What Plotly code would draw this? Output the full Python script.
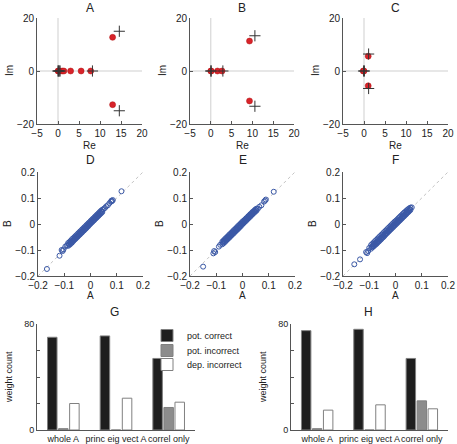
import plotly.graph_objects as go

W, H = 457, 444
FONT = "Liberation Sans, Arial, sans-serif"

# ---------------- data: eigenvalue panels (A, B, C) ----------------
A_red_re = [0.0, 0.2, 0.4, 1.0, 1.4, 3.0, 5.5, 7.8, 13.0, 13.0]
A_red_im = [0.0, 0.0, 0.0, 0.0, 0.0, 0.0, 0.0, 0.0, 12.7, -12.7]
A_blk_re = [0.0, 0.1, 0.3, 0.5, 8.2, 14.6, 14.6]
A_blk_im = [0.0, 0.0, 0.0, 0.0, 0.0, 15.0, -15.0]

B_red_re = [0.0, 0.1, 1.6, 2.7, 9.3, 9.3]
B_red_im = [0.0, 0.0, 0.0, 0.0, 11.3, -11.3]
B_blk_re = [0.0, 0.1, 2.9, 10.6, 10.6]
B_blk_im = [0.0, 0.0, 0.0, 13.3, -13.3]

C_red_re = [-0.2, 0.0, 1.0, 1.0]
C_red_im = [0.0, 0.0, 5.6, -5.6]
C_blk_re = [-0.1, 0.1, 1.1, 1.1]
C_blk_im = [0.0, 0.0, 6.4, -6.6]

# ---------------- data: weight comparison panels (D, E, F) ----------------
D_A = [-0.085, -0.080, -0.075, -0.070, -0.065, -0.060, -0.055, -0.050, -0.045, -0.040,
       -0.035, -0.030, -0.025, -0.020, -0.015, -0.010, -0.005, 0.000, 0.005, 0.010,
       0.015, 0.020, 0.025, 0.030, 0.035, 0.040, 0.045,
       -0.085, -0.080, -0.075, -0.070, -0.065, -0.060, -0.055, -0.050, -0.045, -0.040,
       -0.035, -0.030, -0.025, -0.020, -0.015, -0.010, -0.005, 0.000, 0.005, 0.010,
       0.015, 0.020, 0.025, 0.030, 0.035, 0.040, 0.045,
       -0.0825, -0.0775, -0.0725, -0.0675, -0.0625, -0.0575, -0.0525, -0.0475, -0.0425,
       -0.0375, -0.0325, -0.0275, -0.0225, -0.0175, -0.0125, -0.0075, -0.0025, 0.0025,
       0.0075, 0.0125, 0.0175, 0.0225, 0.0275, 0.0325, 0.0375, 0.0425,
       -0.166, -0.118, -0.110, -0.106, -0.103, -0.096, -0.090, 0.050, 0.055, 0.060,
       0.066, 0.072, 0.078, 0.080, 0.082, 0.085, 0.118]
D_B = [-0.073, -0.069, -0.064, -0.058, -0.054, -0.049, -0.044, -0.039, -0.034, -0.029,
       -0.024, -0.019, -0.014, -0.009, -0.004, 0.001, 0.006, 0.011, 0.016, 0.021,
       0.026, 0.031, 0.036, 0.041, 0.046, 0.051, 0.055,
       -0.084, -0.080, -0.076, -0.071, -0.065, -0.060, -0.055, -0.050, -0.045, -0.040,
       -0.035, -0.030, -0.025, -0.020, -0.015, -0.010, -0.004, 0.001, 0.006, 0.011,
       0.016, 0.021, 0.026, 0.031, 0.036, 0.041, 0.046,
       -0.078, -0.073, -0.069, -0.063, -0.059, -0.054, -0.048, -0.044, -0.039,
       -0.033, -0.029, -0.024, -0.018, -0.014, -0.008, -0.004, 0.002, 0.007,
       0.012, 0.016, 0.022, 0.026, 0.032, 0.036, 0.042, 0.047,
       -0.173, -0.122, -0.100, -0.104, -0.098, -0.087, -0.082, 0.058, 0.062, 0.068,
       0.072, 0.080, 0.086, 0.090, 0.088, 0.092, 0.126]

E_A = [-0.077, -0.072, -0.067, -0.062, -0.057, -0.052, -0.047, -0.042, -0.037, -0.032,
       -0.027, -0.022, -0.017, -0.012, -0.007, -0.002, 0.003, 0.008, 0.013, 0.018,
       0.023, 0.028, 0.033, 0.038, 0.043, 0.048, 0.053,
       -0.077, -0.072, -0.067, -0.062, -0.057, -0.052, -0.047, -0.042, -0.037, -0.032,
       -0.027, -0.022, -0.017, -0.012, -0.007, -0.002, 0.003, 0.008, 0.013, 0.018,
       0.023, 0.028, 0.033, 0.038, 0.043, 0.048, 0.053,
       -0.0745, -0.0695, -0.0645, -0.0595, -0.0545, -0.0495, -0.0445, -0.0395, -0.0345,
       -0.0295, -0.0245, -0.0195, -0.0145, -0.0095, -0.0045, 0.0005, 0.0055, 0.0105,
       0.0155, 0.0205, 0.0255, 0.0305, 0.0355, 0.0405, 0.0455, 0.0505,
       -0.150, -0.111, -0.108, -0.104, -0.090, -0.085, 0.058, 0.064, 0.072, 0.082,
       0.086, 0.089, 0.119]
E_B = [-0.068, -0.063, -0.058, -0.053, -0.048, -0.043, -0.038, -0.033, -0.028, -0.023,
       -0.018, -0.013, -0.008, -0.003, 0.002, 0.007, 0.012, 0.016, 0.021, 0.026,
       0.031, 0.036, 0.041, 0.046, 0.050, 0.055, 0.059,
       -0.078, -0.074, -0.069, -0.064, -0.059, -0.054, -0.049, -0.044, -0.039, -0.034,
       -0.029, -0.024, -0.019, -0.014, -0.009, -0.003, 0.002, 0.007, 0.012, 0.017,
       0.022, 0.027, 0.032, 0.037, 0.042, 0.047, 0.051,
       -0.071, -0.066, -0.061, -0.057, -0.051, -0.047, -0.041, -0.037, -0.031,
       -0.027, -0.021, -0.017, -0.011, -0.007, -0.001, 0.004, 0.009, 0.014,
       0.019, 0.024, 0.029, 0.034, 0.039, 0.044, 0.049, 0.054,
       -0.164, -0.113, -0.104, -0.108, -0.087, -0.080, 0.058, 0.066, 0.072, 0.086,
       0.090, 0.094, 0.124]

F_A = [-0.093, -0.088, -0.083, -0.078, -0.073, -0.068, -0.063, -0.058, -0.053, -0.048,
       -0.043, -0.038, -0.033, -0.028, -0.023, -0.018, -0.013, -0.008, -0.003, 0.002,
       0.007, 0.012, 0.017, 0.022, 0.027, 0.032, 0.037, 0.042, 0.047, 0.052, 0.057,
       -0.093, -0.088, -0.083, -0.078, -0.073, -0.068, -0.063, -0.058, -0.053, -0.048,
       -0.043, -0.038, -0.033, -0.028, -0.023, -0.018, -0.013, -0.008, -0.003, 0.002,
       0.007, 0.012, 0.017, 0.022, 0.027, 0.032, 0.037, 0.042, 0.047, 0.052, 0.057,
       -0.0905, -0.0855, -0.0805, -0.0755, -0.0705, -0.0655, -0.0605, -0.0555, -0.0505,
       -0.0455, -0.0405, -0.0355, -0.0305, -0.0255, -0.0205, -0.0155, -0.0105, -0.0055,
       -0.0005, 0.0045, 0.0095, 0.0145, 0.0195, 0.0245, 0.0295, 0.0345, 0.0395, 0.0445,
       0.0495, 0.0545,
       -0.157, -0.135, -0.112, -0.108, -0.104, -0.100, 0.062]
F_B = [-0.081, -0.076, -0.071, -0.066, -0.061, -0.056, -0.051, -0.046, -0.041, -0.036,
       -0.031, -0.026, -0.021, -0.016, -0.011, -0.006, -0.001, 0.004, 0.009, 0.013,
       0.018, 0.023, 0.028, 0.033, 0.038, 0.043, 0.047, 0.052, 0.056, 0.060, 0.063,
       -0.095, -0.090, -0.086, -0.081, -0.077, -0.072, -0.067, -0.062, -0.057, -0.052,
       -0.047, -0.041, -0.036, -0.031, -0.026, -0.021, -0.016, -0.011, -0.006, -0.001,
       0.004, 0.009, 0.014, 0.019, 0.024, 0.029, 0.034, 0.039, 0.044, 0.049, 0.054,
       -0.088, -0.083, -0.078, -0.073, -0.069, -0.064, -0.058, -0.054, -0.049,
       -0.044, -0.039, -0.034, -0.029, -0.024, -0.018, -0.013, -0.008, -0.003,
       0.002, 0.007, 0.012, 0.016, 0.021, 0.026, 0.031, 0.036, 0.041, 0.046,
       0.051, 0.056,
       -0.155, -0.136, -0.108, -0.112, -0.104, -0.092, 0.064]

# ---------------- data: bar panels (G, H) ----------------
bar_categories = ["whole A", "princ eig vect A", "correl only"]
series_names = ["pot. correct", "pot. incorrect", "dep. incorrect"]
G_values = [[70, 71, 54], [1, 0, 17], [20, 24, 21]]
H_values = [[75, 76, 54], [1, 0, 22], [15, 19, 16]]
bar_ticks = [0, 20, 40, 60, 80]
bar_ticktext = ["0", "", "", "", "80"]

# ---------------- layout helpers ----------------
def px_x(p):
    return p / W

def px_y(p):
    return 1 - p / H

fig = go.Figure()

AX_LINE = "#555"
TICK_FONT = dict(family=FONT, size=10, color="#222")

def style_axis(domain, rng, tickvals, ticktext=None, anchor=None, tickfont=TICK_FONT):
    d = dict(domain=domain, range=rng, tickvals=tickvals, showgrid=False, zeroline=False,
             showline=True, linecolor=AX_LINE, linewidth=1, ticks="inside", ticklen=3,
             tickcolor=AX_LINE, tickfont=tickfont, anchor=anchor, fixedrange=True,
             automargin=False, tickangle=0)
    if ticktext is not None:
        d["ticktext"] = ticktext
    return d

layout = dict(width=W, height=H, margin=dict(l=0, r=0, t=0, b=0, autoexpand=False),
              paper_bgcolor="white", plot_bgcolor="white", showlegend=True,
              font=dict(family=FONT, size=10, color="#222"))

annotations = []
shapes = []

def add_label(text, x, y, size=10, angle=0):
    annotations.append(dict(text=text, x=px_x(x), y=px_y(y), xref="paper", yref="paper",
                            showarrow=False, font=dict(family=FONT, size=size, color="#222"),
                            textangle=angle, xanchor="center", yanchor="middle"))

top_x = [(37, 142), (190, 294), (343, 448)]
top_y = (18, 124)
mid_x = [(38, 143), (190, 295), (343, 448)]
mid_y = (172, 276)

RED = "#d8232a"
BLUE = "#3a58a6"

eig_data = [(A_red_re, A_red_im, A_blk_re, A_blk_im),
            (B_red_re, B_red_im, B_blk_re, B_blk_im),
            (C_red_re, C_red_im, C_blk_re, C_blk_im)]
titles_top = ["A", "B", "C"]
for i, (rr, ri, br, bi) in enumerate(eig_data):
    n = i + 1
    xa = f"xaxis{n}" if n > 1 else "xaxis"
    ya = f"yaxis{n}" if n > 1 else "yaxis"
    xr = f"x{n}" if n > 1 else "x"
    yr = f"y{n}" if n > 1 else "y"
    layout[xa] = style_axis([px_x(top_x[i][0]), px_x(top_x[i][1])], [-5, 20],
                            [-5, 0, 5, 10, 15, 20], anchor=yr)
    layout[ya] = style_axis([px_y(top_y[1]), px_y(top_y[0])], [-20, 20],
                            [-20, 0, 20], anchor=xr)
    shapes.append(dict(type="line", xref=xr, yref=yr, x0=-5, x1=20, y0=0, y1=0,
                       line=dict(color="#cfcfcf", width=1), layer="below"))
    shapes.append(dict(type="line", xref=xr, yref=yr, x0=0, x1=0, y0=-20, y1=20,
                       line=dict(color="#cfcfcf", width=1), layer="below"))
    fig.add_trace(go.Scatter(x=rr, y=ri, mode="markers", xaxis=xr, yaxis=yr, showlegend=False,
                             marker=dict(color=RED, size=6, line=dict(color="#b01010", width=0.5))))
    fig.add_trace(go.Scatter(x=br, y=bi, mode="markers", xaxis=xr, yaxis=yr, showlegend=False,
                             marker=dict(symbol="cross-thin", color="#333", size=8,
                                         line=dict(color="#333", width=1))))
    cx = (top_x[i][0] + top_x[i][1]) / 2
    add_label(titles_top[i], cx, 8, size=12)
    add_label("Re", cx, 145, size=10)
    add_label("Im", top_x[i][0] - 28, 71, size=10, angle=-90)

cmp_data = [(D_A, D_B), (E_A, E_B), (F_A, F_B)]
titles_mid = ["D", "E", "F"]
for i, (ax_, bx_) in enumerate(cmp_data):
    n = i + 4
    xr, yr = f"x{n}", f"y{n}"
    layout[f"xaxis{n}"] = style_axis([px_x(mid_x[i][0]), px_x(mid_x[i][1])], [-0.2, 0.2],
                                     [-0.2, -0.1, 0, 0.1, 0.2], anchor=yr)
    layout[f"yaxis{n}"] = style_axis([px_y(mid_y[1]), px_y(mid_y[0])], [-0.2, 0.2],
                                     [-0.2, -0.1, 0, 0.1, 0.2], anchor=xr)
    shapes.append(dict(type="line", xref=xr, yref=yr, x0=-0.2, x1=0.2, y0=-0.2, y1=0.2,
                       line=dict(color="#c4c4c4", width=1, dash="dot"), layer="below"))
    fig.add_trace(go.Scatter(x=ax_, y=bx_, mode="markers", xaxis=xr, yaxis=yr, showlegend=False,
                             marker=dict(symbol="circle-open", color=BLUE, size=5,
                                         line=dict(color=BLUE, width=1))))
    cx = (mid_x[i][0] + mid_x[i][1]) / 2
    add_label(titles_mid[i], cx, 160, size=12)
    add_label("A", cx, 295, size=10)
    add_label("B", mid_x[i][0] - 30, 224, size=10, angle=-90)

bot_x = [(37, 195), (291, 448)]
bot_y = (324, 430)
bar_colors = ["#1e1e1e", "#8c8c8c", "#ffffff"]
titles_bot = ["G", "H"]
BAR_TICK_FONT = dict(family=FONT, size=9, color="#222")
legend_names = ["legend", "legend2", "legend3"]
legend_rows = [321, 336, 350]
for j, vals in enumerate([G_values, H_values]):
    n = 7 + j
    xr, yr = f"x{n}", f"y{n}"
    xd = style_axis([px_x(bot_x[j][0]), px_x(bot_x[j][1])], [0.5, 3.5],
                    [1, 2, 3], ticktext=bar_categories, anchor=yr, tickfont=BAR_TICK_FONT)
    xd["ticks"] = ""
    layout[f"xaxis{n}"] = xd
    layout[f"yaxis{n}"] = style_axis([px_y(bot_y[1]), px_y(bot_y[0])], [0, 80],
                                     bar_ticks, ticktext=bar_ticktext, anchor=xr,
                                     tickfont=BAR_TICK_FONT)
    for k in range(3):
        fig.add_trace(go.Bar(x=[1, 2, 3], y=vals[k], name=series_names[k], xaxis=xr, yaxis=yr,
                             showlegend=(j == 0), legend=legend_names[k], offsetgroup=str(k),
                             marker=dict(color=bar_colors[k], line=dict(color="#808080", width=1))))
    cx = (bot_x[j][0] + bot_x[j][1]) / 2
    add_label(titles_bot[j], cx - 1, 312, size=12)
    add_label("weight count", bot_x[j][0] - 28, 377, size=9, angle=-90)

layout["barmode"] = "group"
layout["bargap"] = 0.37
layout["bargroupgap"] = 0.14
for k, lname in enumerate(legend_names):
    layout[lname] = dict(x=px_x(147), y=px_y(legend_rows[k]), xanchor="left", yanchor="top",
                         bgcolor="rgba(0,0,0,0)", font=dict(family=FONT, size=9, color="#222"),
                         itemwidth=30, borderwidth=0)
layout["annotations"] = annotations
layout["shapes"] = shapes
fig.update_layout(**layout)

fig.write_html("out.html", config={"displayModeBar": False},
               post_script="document.body.style.margin='0';")
